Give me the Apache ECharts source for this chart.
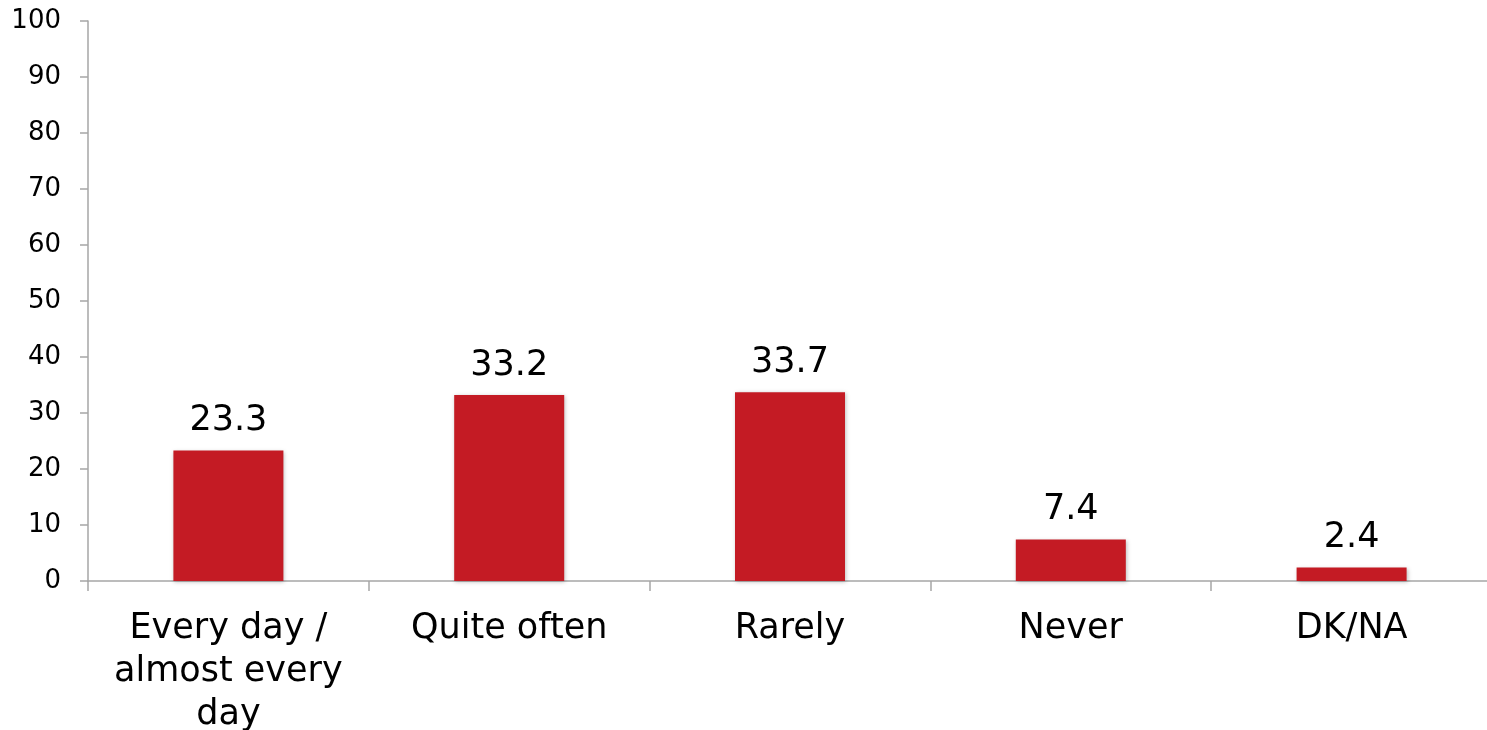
<!DOCTYPE html>
<html>
<head>
<meta charset="utf-8">
<script src="https://cdn.jsdelivr.net/npm/echarts@6/dist/echarts.min.js"></script>
<style>
  html, body { margin: 0; padding: 0; background: #fff; }
  #chart { width: 1487px; height: 730px; }
</style>
</head>
<body>
<div id="chart"></div>
<script>
const categories = ['Every day /\nalmost every\nday', 'Quite often', 'Rarely', 'Never', 'DK/NA'];
const values = [23.3, 33.2, 33.7, 7.4, 2.4];

const axisColor = '#a6a6a6';
const fontFamily = 'DejaVu Sans, Verdana, sans-serif';

const chart = echarts.init(document.getElementById('chart'));

chart.setOption({
  animation: false,
  grid: { left: 88, top: 21, bottom: 149, right: -5, containLabel: false, outerBoundsMode: 'none' },
  xAxis: {
    type: 'category',
    data: categories,
    axisLine: { lineStyle: { color: axisColor, width: 1.5 } },
    axisTick: { show: true, length: 10, lineStyle: { color: axisColor, width: 1.5 } },
    axisLabel: {
      color: '#000',
      fontFamily: fontFamily,
      fontSize: 35,
      lineHeight: 43,
      margin: 26,
      interval: 0
    }
  },
  yAxis: {
    type: 'value',
    min: 0,
    max: 100,
    interval: 10,
    splitLine: { show: false },
    axisLine: { show: true, lineStyle: { color: axisColor, width: 1.5 } },
    axisTick: { show: true, length: 8, lineStyle: { color: axisColor, width: 1.5 } },
    axisLabel: {
      color: '#000',
      fontFamily: fontFamily,
      fontSize: 26,
      margin: 27
    }
  },
  series: [
    {
      type: 'bar',
      data: values,
      barWidth: 110,
      itemStyle: {
        color: '#c41b24',
        shadowBlur: 4,
        shadowColor: 'rgba(0, 0, 0, 0.25)',
        shadowOffsetX: 1,
        shadowOffsetY: 1
      },
      label: {
        show: true,
        position: 'top',
        distance: 12,
        color: '#000',
        fontFamily: fontFamily,
        fontSize: 35,
        formatter: (p) => p.value.toFixed(1)
      }
    }
  ]
});
</script>
</body>
</html>
